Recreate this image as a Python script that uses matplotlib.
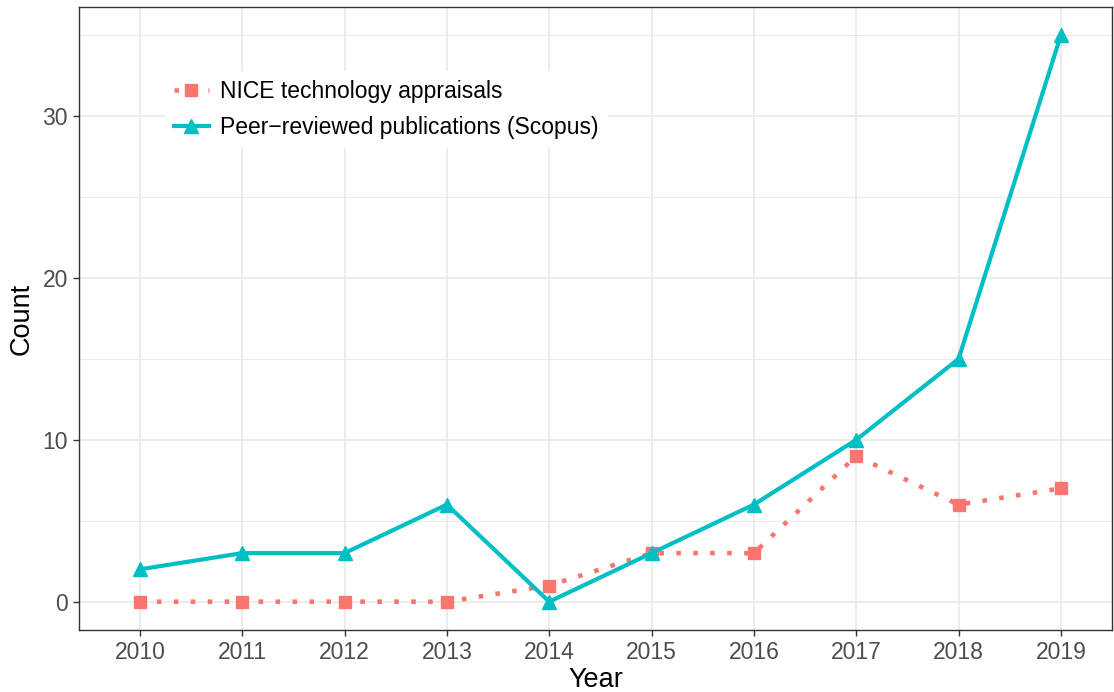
import matplotlib
matplotlib.use("Agg")
import matplotlib.pyplot as plt
from matplotlib.ticker import MultipleLocator

years = [2010, 2011, 2012, 2013, 2014, 2015, 2016, 2017, 2018, 2019]
nice = [0, 0, 0, 0, 1, 3, 3, 9, 6, 7]
scopus = [2, 3, 3, 6, 0, 3, 6, 10, 15, 35]
labels = ["NICE technology appraisals", "Peer\u2212reviewed publications (Scopus)"]
colors = ["#F8766D", "#00BFC4"]

plt.rcParams['font.family'] = ['Liberation Sans', 'DejaVu Sans']

W, H = 1114, 692
fig = plt.figure(figsize=(W / 100, H / 100), dpi=100)
ax = fig.add_axes([79 / W, (H - 630) / H, (1112 - 79) / W, (630 - 7) / H])

ax.plot(years, nice, color=colors[0], linestyle=(0, (1.0, 2.7)), linewidth=3.3,
        dash_capstyle='butt', marker='s', markersize=9, label=labels[0], zorder=3)
ax.plot(years, scopus, color=colors[1], linestyle='-', linewidth=3.0,
        marker='^', markersize=10.5, label=labels[1], zorder=3)

ax.set_xlim(2009.405, 2019.5)
ax.set_ylim(-1.75, 36.75)
ax.set_xticks(years)
ax.set_xticklabels([str(y) for y in years])
ax.yaxis.set_major_locator(MultipleLocator(10))
ax.yaxis.set_minor_locator(MultipleLocator(5))

ax.grid(which='major', color='#EBEBEB', linewidth=1.3, zorder=0)
ax.grid(which='minor', axis='y', color='#EBEBEB', linewidth=0.7, zorder=0)
ax.set_axisbelow(True)

for s in ax.spines.values():
    s.set_color('#333333')
    s.set_linewidth(1.0)

ax.tick_params(which='major', length=4, width=1.0, color='#333333',
               labelcolor='#4D4D4D', labelsize=16.5, pad=4)
ax.tick_params(which='minor', length=0)

ax.set_xlabel("Year", fontsize=19.5, color='black', labelpad=2)
ax.set_ylabel("Count", fontsize=19.5, color='black')
ax.yaxis.set_label_coords(-0.0426, 0.5)

leg = ax.legend(loc='upper left', bbox_to_anchor=(86 / (1112 - 79), (630 - 71) / (630 - 7)),
                frameon=True, fontsize=16.5, handlelength=1.5, handletextpad=0.5,
                labelspacing=0.55, borderpad=0.4, borderaxespad=0)
leg.get_frame().set_facecolor('white')
leg.get_frame().set_edgecolor('none')
leg.get_frame().set_alpha(1)

fig.savefig("out.png", dpi=100)
